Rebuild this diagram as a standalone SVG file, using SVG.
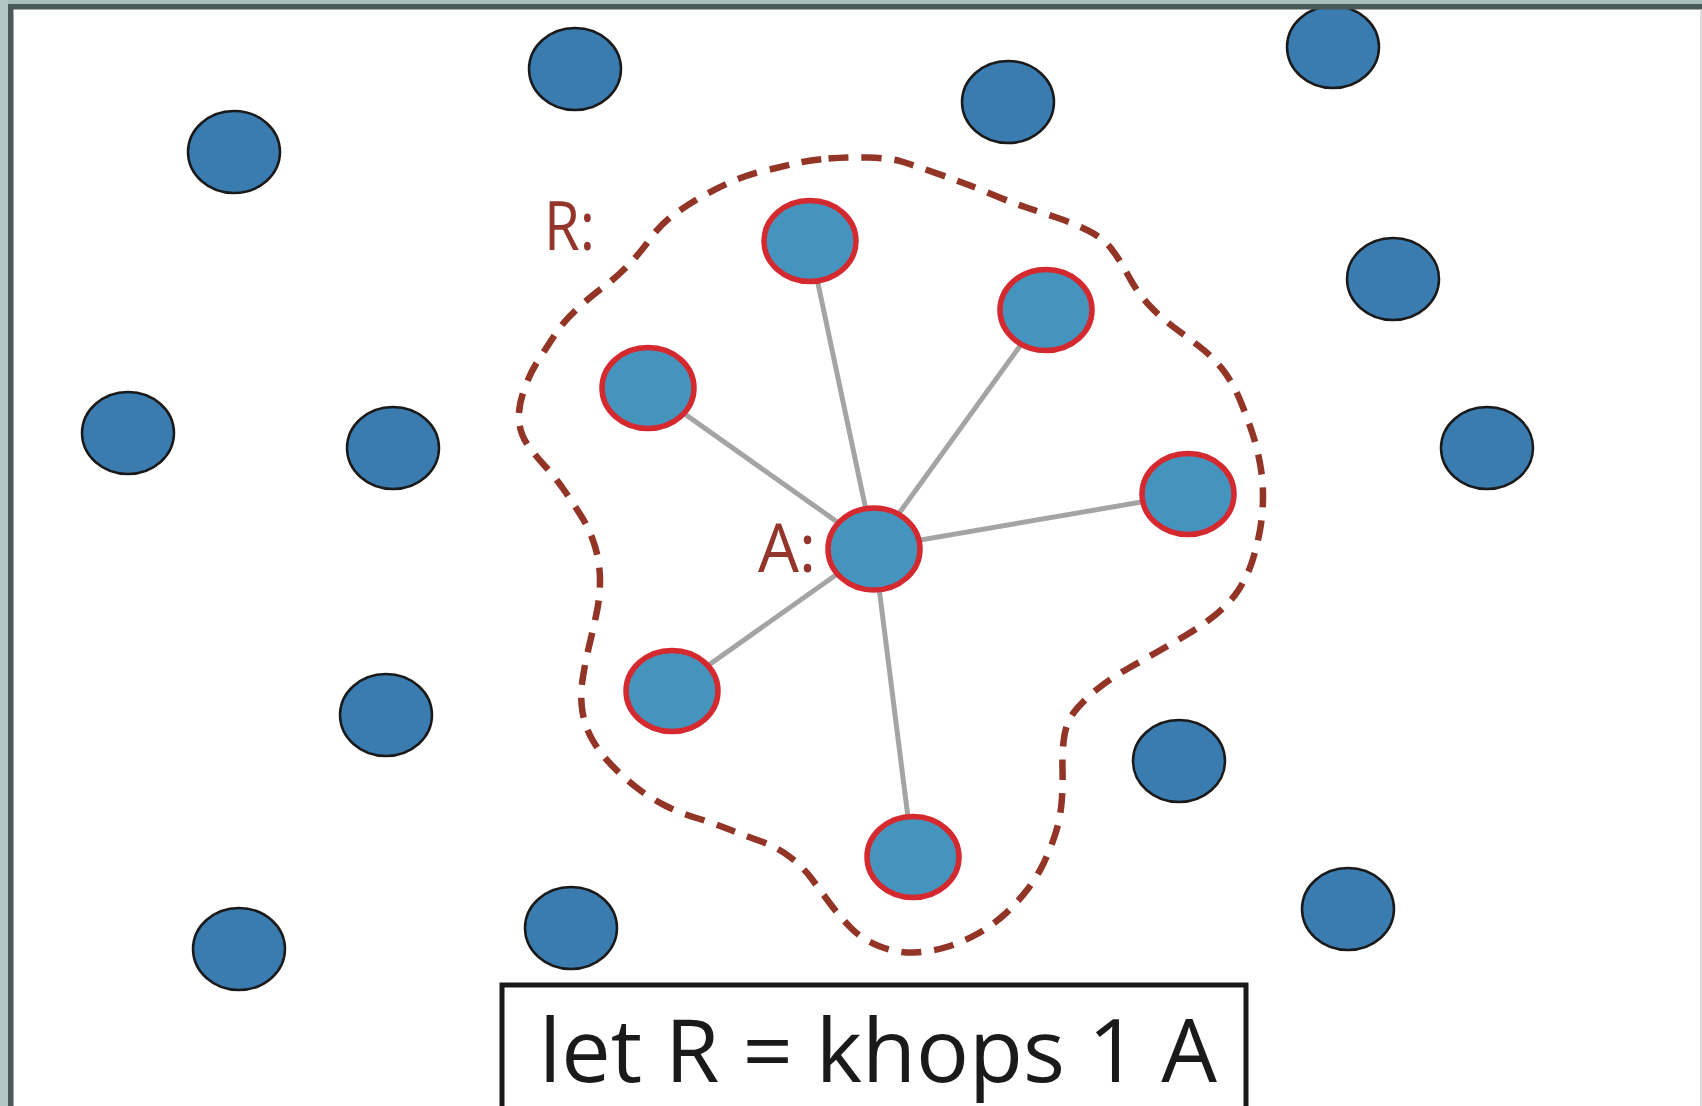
<svg xmlns="http://www.w3.org/2000/svg" width="1702" height="1106" viewBox="0 0 1702 1106">
  <style>
    .far { fill: #3a7bb0; stroke: #1a1a1a; stroke-width: 2.5; }
    .near { fill: #4494be; stroke: #d42a2f; stroke-width: 5.5; }
    .edge { stroke: #a3a5a5; stroke-width: 5; stroke-linecap: round; }
    .region { fill: none; stroke: #933526; stroke-width: 6.5; stroke-dasharray: 20 13; }
    .label { font-family: "Open Sans", "Liberation Sans", sans-serif; fill: #93352b; font-size: 68px; font-weight: 500; }
    .code { font-family: "Open Sans", "Liberation Sans", sans-serif; fill: #1a1a1a; font-size: 88px; font-weight: 500; }
  </style>

  <rect x="0" y="0" width="1702" height="1106" fill="#ffffff"/>

  <!-- 1-hop neighbourhood boundary (smoothed through control points) -->
  <path id="region-R" class="region" d="M 828.5,158.5
    Q 847,157 868.5,157.5 Q 890,158 901.5,161.5 Q 913,165 930,171 Q 947,177 962,182.5
    Q 977,188 993.5,195 Q 1010,202 1025,207 Q 1040,212 1056.5,217.5 Q 1073,223 1088,230.5
    Q 1103,238 1111.5,249 Q 1120,260 1128.5,276 Q 1137,292 1148.5,304.5 Q 1160,317 1173.5,327
    Q 1187,337 1200,347 Q 1213,357 1223,370 Q 1233,383 1240,400 Q 1247,417 1252,432
    Q 1257,447 1260,463.5 Q 1263,480 1263,496.5 Q 1263,513 1260,530 Q 1257,547 1252,562
    Q 1247,577 1238.5,590 Q 1230,603 1216.5,614 Q 1203,625 1188,634 Q 1173,643 1158,651.5
    Q 1143,660 1128,668.5 Q 1113,677 1100,687 Q 1087,697 1077,708.5 Q 1067,720 1064.5,735
    Q 1062,750 1062.5,768.5 Q 1063,787 1061.5,803.5 Q 1060,820 1055,835 Q 1050,850 1043.5,863.5
    Q 1037,877 1027,890 Q 1017,903 1005,914 Q 993,925 978,933.5 Q 963,942 946.5,947
    Q 930,952 913.5,952.5 Q 897,953 880,946.5 Q 863,940 851.5,928.5 Q 840,917 830,903.5
    Q 820,890 811.5,878.5 Q 803,867 790,857 Q 777,847 760,841 Q 743,835 728,829
    Q 713,823 696.5,818 Q 680,813 665,805.5 Q 650,798 636.5,787.5 Q 623,777 611.5,765
    Q 600,753 592.5,740 Q 585,727 582.5,712 Q 580,697 582.5,680 Q 585,663 589,646.5
    Q 593,630 596.5,613.5 Q 600,597 600,580 Q 600,563 595,546.5 Q 590,530 581.5,516.5
    Q 573,503 564,490 Q 555,477 544,465 Q 533,453 526.5,443 Q 520,433 519,420
    Q 518,407 524,390 Q 530,373 538.5,360 Q 547,347 555,334.5 Q 563,322 576.5,309.5
    Q 590,297 603.5,287 Q 617,277 628.5,265 Q 640,253 650,239 Q 660,225 673.5,215
    Q 687,205 702,196.5 Q 717,188 732,181.5 Q 747,175 763.5,171 Q 780,167 795,163.5
    Q 810,160 828.5,158.5 Z"/>

  <text class="label" x="544" y="250" textLength="51" lengthAdjust="spacingAndGlyphs">R:</text>

  <!-- edges from A to its neighbours -->
  <g id="connectors">
    <line class="edge" x1="874" y1="548" x2="809" y2="241"/>
    <line class="edge" x1="874" y1="548" x2="1046" y2="310"/>
    <line class="edge" x1="874" y1="548" x2="648" y2="388"/>
    <line class="edge" x1="874" y1="548" x2="1188" y2="494"/>
    <line class="edge" x1="874" y1="548" x2="672" y2="691"/>
    <line class="edge" x1="874" y1="548" x2="913" y2="857"/>
  </g>

  <!-- nodes outside R -->
  <g id="n01"><ellipse class="far" cx="234" cy="152" rx="46" ry="41"/></g>
  <g id="n02"><ellipse class="far" cx="575" cy="69" rx="46" ry="41"/></g>
  <g id="n03"><ellipse class="far" cx="1008" cy="102" rx="46" ry="41"/></g>
  <g id="n04"><ellipse class="far" cx="1333" cy="47" rx="46" ry="41"/></g>
  <g id="n05"><ellipse class="far" cx="1393" cy="279" rx="46" ry="41"/></g>
  <g id="n06"><ellipse class="far" cx="128" cy="433" rx="46" ry="41"/></g>
  <g id="n07"><ellipse class="far" cx="393" cy="448" rx="46" ry="41"/></g>
  <g id="n08"><ellipse class="far" cx="1487" cy="448" rx="46" ry="41"/></g>
  <g id="n09"><ellipse class="far" cx="386" cy="715" rx="46" ry="41"/></g>
  <g id="n10"><ellipse class="far" cx="1179" cy="761" rx="46" ry="41"/></g>
  <g id="n11"><ellipse class="far" cx="239" cy="949" rx="46" ry="41"/></g>
  <g id="n12"><ellipse class="far" cx="571" cy="928" rx="46" ry="41"/></g>
  <g id="n13"><ellipse class="far" cx="1348" cy="909" rx="46" ry="41"/></g>

  <!-- nodes in R -->
  <g id="nodeA">
    <ellipse class="near" cx="874" cy="549" rx="46" ry="41"/>
    <text class="label" x="758" y="572" textLength="58" lengthAdjust="spacingAndGlyphs">A:</text>
  </g>
  <g id="r1"><ellipse class="near" cx="810" cy="241" rx="46" ry="40.5"/></g>
  <g id="r2"><ellipse class="near" cx="1046" cy="310" rx="46" ry="40.5"/></g>
  <g id="r3"><ellipse class="near" cx="648" cy="388" rx="46" ry="40.5"/></g>
  <g id="r4"><ellipse class="near" cx="1188" cy="494" rx="46" ry="40.5"/></g>
  <g id="r5"><ellipse class="near" cx="672" cy="691" rx="46" ry="40.5"/></g>
  <g id="r6"><ellipse class="near" cx="913" cy="857" rx="46" ry="40.5"/></g>

  <!-- expression box -->
  <g id="expr">
    <rect x="502" y="985" width="744" height="160" fill="#ffffff" stroke="#1a1a1a" stroke-width="5"/>
    <text class="code" x="539" y="1082" textLength="678" lengthAdjust="spacingAndGlyphs">let R = khops 1 A</text>
  </g>

  <!-- window frame -->
  <g id="frame">
    <rect x="0" y="0" width="1702" height="4" fill="#a9bfba"/>
    <rect x="0" y="0" width="8" height="1106" fill="#b3c7c2"/>
    <rect x="8" y="4" width="1694" height="5.5" fill="#4b5a58"/>
    <rect x="8" y="4" width="5.5" height="1102" fill="#4b5a58"/>
    <rect x="1700" y="9.5" width="2" height="1096.5" fill="#dcdcdc"/>
  </g>
</svg>
